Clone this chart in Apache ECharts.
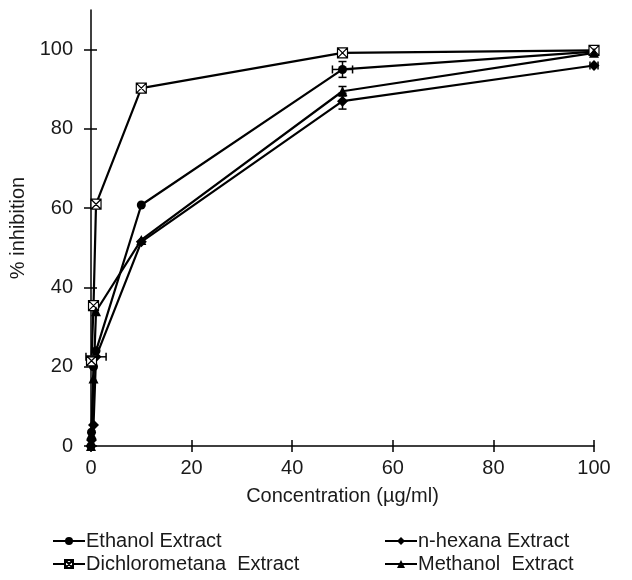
<!DOCTYPE html>
<html>
<head>
<meta charset="utf-8">
<script src="https://cdn.jsdelivr.net/npm/echarts@6/dist/echarts.min.js"></script>
<style>
  html, body { margin: 0; padding: 0; background: #fff; }
  #chart { width: 632px; height: 580px; }
</style>
</head>
<body>
<div id="chart"></div>
<script>
// concentration (µg/ml) and % inhibition
const ethanolX = [0, 0.1, 0.5, 1, 10, 50, 100];
const ethanolY = [0, 3.5, 20, 24, 60.8, 95, 99.5];
const hexanaX = [0, 0.1, 0.5, 1, 10, 50, 100];
const hexanaY = [0, 1.5, 5.3, 22.5, 51.5, 87, 96];
const dichloroX = [0.1, 0.5, 1, 10, 50, 100];
const dichloroY = [21.5, 35.4, 61, 90.3, 99.2, 99.8];
const methanolX = [0, 0.1, 0.5, 1, 10, 50, 100];
const methanolY = [0, 3, 17, 34, 52, 89.5, 99.2];

// error bars: [x, y, xErr, yErr]
const errorBars = [
  [50, 95, 2, 2],
  [50, 87, 0, 2],
  [50, 89.5, 0, 1.2],
  [1, 22.5, 2, 0],
  [100, 96, 0.8, 0],
];

const yTicks = [0, 20, 40, 60, 80, 100];
const xTicks = [0, 20, 40, 60, 80, 100];

function pairs(xs, ys) {
  return xs.map((x, i) => [x, ys[i]]);
}

const font = "Liberation Sans";
const black = "#000";
const textColor = "#1a1a1a";

function lineSeries(name, xs, ys, symbol, size, fill) {
  return {
    name: name,
    type: "line",
    data: pairs(xs, ys),
    symbol: symbol,
    symbolSize: size,
    showAllSymbol: true,
    lineStyle: { color: black, width: 2.2 },
    itemStyle: { color: fill || black, borderColor: black, borderWidth: fill ? 1.2 : 0 },
    emphasis: { disabled: true },
    z: 3,
  };
}

const crossSquare = "path://M0,0L10,0L10,10L0,10Z M0,0L10,10 M10,0L0,10";

const tickStyle = { color: black, width: 1.5 };

const chart = echarts.init(document.getElementById("chart"));
chart.setOption({
  animation: false,
  textStyle: { fontFamily: font },
  grid: { left: 91, right: 38, top: 10, bottom: 134 },
  xAxis: [
    {
      type: "value",
      min: 0,
      max: 100,
      interval: 20,
      name: "Concentration (\u00b5g/ml)",
      nameLocation: "middle",
      nameGap: 40,
      nameTextStyle: { fontSize: 20, color: textColor, fontFamily: font },
      axisLine: { lineStyle: { color: black, width: 1.5 } },
      axisTick: { lineStyle: tickStyle, length: 6, customValues: xTicks },
      axisLabel: { fontSize: 20, color: textColor, fontFamily: font, margin: 12, customValues: xTicks },
      splitLine: { show: false },
    },
    {
      // inner half of the crossing ticks
      type: "value",
      min: 0,
      max: 100,
      interval: 20,
      position: "bottom",
      axisLine: { show: false },
      axisTick: { inside: true, lineStyle: tickStyle, length: 6, customValues: xTicks },
      axisLabel: { show: false },
      splitLine: { show: false },
    },
  ],
  yAxis: [
    {
      type: "value",
      min: 0,
      max: 110,
      interval: 20,
      name: "% inhibition",
      nameLocation: "middle",
      nameGap: 52,
      nameTextStyle: { fontSize: 20, color: textColor, fontFamily: font },
      axisLine: { show: true, lineStyle: { color: black, width: 1.5 } },
      axisTick: { show: true, lineStyle: tickStyle, length: 7, customValues: yTicks },
      axisLabel: {
        fontSize: 20,
        color: textColor,
        fontFamily: font,
        margin: 18,
        customValues: yTicks,
      },
      splitLine: { show: false },
    },
    {
      type: "value",
      min: 0,
      max: 110,
      interval: 20,
      position: "left",
      axisLine: { show: false },
      axisTick: { show: true, inside: true, lineStyle: tickStyle, length: 6, customValues: yTicks },
      axisLabel: { show: false },
      splitLine: { show: false },
    },
  ],
  legend: [
    { data: ["Ethanol Extract"], left: 52, top: 531 },
    { data: ["n-hexana Extract"], left: 384, top: 531 },
    { data: ["Dichlorometana  Extract"], left: 52, top: 554 },
    { data: ["Methanol  Extract"], left: 384, top: 554 },
  ].map((l) =>
    Object.assign(l, {
      itemWidth: 32,
      itemHeight: 10,
      itemGap: 2,
      padding: 0,
      textStyle: { fontSize: 20, color: textColor, fontFamily: font, padding: [0, 0, 0, -4] },
    })
  ),
  series: [
    lineSeries("Ethanol Extract", ethanolX, ethanolY, "circle", 9),
    lineSeries("n-hexana Extract", hexanaX, hexanaY, "diamond", 11),
    lineSeries("Dichlorometana  Extract", dichloroX, dichloroY, crossSquare, 10, "#fff"),
    lineSeries("Methanol  Extract", methanolX, methanolY, "triangle", 10),
    {
      type: "custom",
      data: errorBars,
      z: 4,
      silent: true,
      renderItem: function (params, api) {
        const x = api.value(0), y = api.value(1), ex = api.value(2), ey = api.value(3);
        const c = api.coord([x, y]);
        const kids = [];
        const cap = 4;
        const style = { stroke: black, lineWidth: 1.5 };
        if (ey > 0) {
          const top = api.coord([x, y + ey]), bot = api.coord([x, y - ey]);
          kids.push({ type: "line", shape: { x1: c[0], y1: top[1], x2: c[0], y2: bot[1] }, style: style });
          kids.push({ type: "line", shape: { x1: c[0] - cap, y1: top[1], x2: c[0] + cap, y2: top[1] }, style: style });
          kids.push({ type: "line", shape: { x1: c[0] - cap, y1: bot[1], x2: c[0] + cap, y2: bot[1] }, style: style });
        }
        if (ex > 0) {
          const l = api.coord([x - ex, y]), r = api.coord([x + ex, y]);
          kids.push({ type: "line", shape: { x1: l[0], y1: c[1], x2: r[0], y2: c[1] }, style: style });
          kids.push({ type: "line", shape: { x1: l[0], y1: c[1] - cap, x2: l[0], y2: c[1] + cap }, style: style });
          kids.push({ type: "line", shape: { x1: r[0], y1: c[1] - cap, x2: r[0], y2: c[1] + cap }, style: style });
        }
        return { type: "group", children: kids };
      },
    },
  ],
});
</script>
</body>
</html>
